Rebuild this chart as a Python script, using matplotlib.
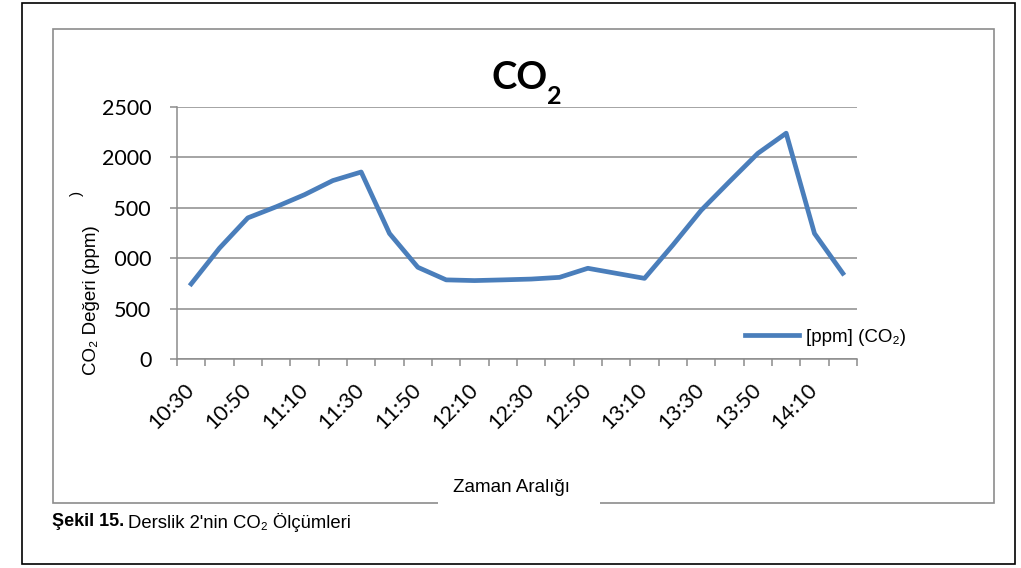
import matplotlib
matplotlib.use("Agg")
import matplotlib.pyplot as plt
from matplotlib.patches import Rectangle

# Data (10 minute steps)
times = ["10:30", "10:40", "10:50", "11:00", "11:10", "11:20", "11:30", "11:40",
         "11:50", "12:00", "12:10", "12:20", "12:30", "12:40", "12:50", "13:00",
         "13:10", "13:20", "13:30", "13:40", "13:50", "14:00", "14:10", "14:20"]
co2 = [745, 1100, 1400, 1510, 1630, 1770, 1855, 1245,
       910, 785, 778, 785, 793, 810, 900, 850,
       800, 1130, 1475, 1760, 2040, 2240, 1245, 850]
y_ticks = [0, 500, 1000, 1500, 2000, 2500]

W, H = 1021, 568
arial = ["Liberation Sans", "DejaVu Sans"]
calibri = ["Lato", "DejaVu Sans"]
grey = "#8c8c8c"


def fx(px):
    return px / W


def fy(py):
    return 1 - py / H


fig = plt.figure(figsize=(W / 100, H / 100), dpi=100)

# page frame and chart frame
fig.patches.append(Rectangle((fx(22), fy(564)), fx(1015) - fx(22), fy(3) - fy(564),
                             transform=fig.transFigure, fill=False, ec="black", lw=1.2))
fig.patches.append(Rectangle((fx(53), fy(503)), fx(994) - fx(53), fy(29) - fy(503),
                             transform=fig.transFigure, fill=False, ec=grey, lw=1.2))

ax = fig.add_axes([fx(177), fy(359), fx(857) - fx(177), fy(107) - fy(359)])
x = list(range(len(times)))
ax.plot(x, co2, color="#4a7ebb", lw=3.4, label="[ppm] (CO\u2082)")

ax.set_xlim(-0.5, len(times) - 0.5)
ax.set_ylim(0, 2500)
ax.set_yticks(y_ticks)
ax.set_yticklabels([str(v) for v in y_ticks], family=calibri, fontsize=15.5)
ax.set_xticks([i - 0.5 for i in range(len(times) + 1)])
ax.set_xticklabels([])
ax.set_xticks(x[::2], minor=True)
ax.set_xticklabels(times[::2], minor=True, family=calibri, fontsize=15.5,
                   rotation=45, ha="right", va="center", rotation_mode="anchor")
ax.tick_params(axis="both", which="major", direction="out", length=5, width=1.1, color=grey)
ax.tick_params(axis="y", pad=13.5)
ax.tick_params(axis="x", which="minor", length=0, pad=20)
ax.grid(axis="y", color=grey, lw=1.1)
ax.set_axisbelow(True)
for s in ["top", "right"]:
    ax.spines[s].set_visible(False)
for s in ["left", "bottom"]:
    ax.spines[s].set_color(grey)
    ax.spines[s].set_linewidth(1.1)

ax.legend(loc="center left", bbox_to_anchor=(fx(745), fy(337)), bbox_transform=fig.transFigure,
          frameon=False, prop={"family": arial, "size": 13.5}, handlelength=2.9,
          handletextpad=0.35, borderpad=0, borderaxespad=0)

# title
fig.text(fx(491), fy(89), "CO", family=calibri, weight="bold", fontsize=27.5, va="baseline")
fig.text(fx(547), fy(104), "2", family=calibri, weight="bold", fontsize=18, va="baseline")

# y label with its white box hiding part of the tick labels
fig.patches.append(Rectangle((fx(70), fy(382)), fx(114) - fx(70), fy(200) - fy(382),
                             transform=fig.transFigure, fc="white", ec="none", zorder=2))
fig.text(fx(77), fy(193), ")", family=arial, fontsize=11, rotation=90, ha="center", va="center")
fig.text(fx(92), fy(300), "CO\u2082 De\u011feri (ppm)", family=arial, fontsize=13.5,
         rotation=90, ha="center", va="center")

# x label, its white box breaks the frame line
fig.patches.append(Rectangle((fx(438), fy(506)), fx(600) - fx(438), fy(470) - fy(506),
                             transform=fig.transFigure, fc="white", ec="none", zorder=2))
fig.text(fx(511), fy(487), "Zaman Aral\u0131\u011f\u0131", family=arial, fontsize=13.5,
         ha="center", va="center")

# caption
fig.text(fx(52), fy(522), "\u015eekil 15.", family=arial, weight="bold", fontsize=13,
         va="center")
fig.text(fx(128), fy(522), "Derslik 2'nin CO\u2082 \u00d6l\u00e7\u00fcmleri", family=arial,
         fontsize=13.3, va="center")

fig.savefig("out.png", dpi=100)
